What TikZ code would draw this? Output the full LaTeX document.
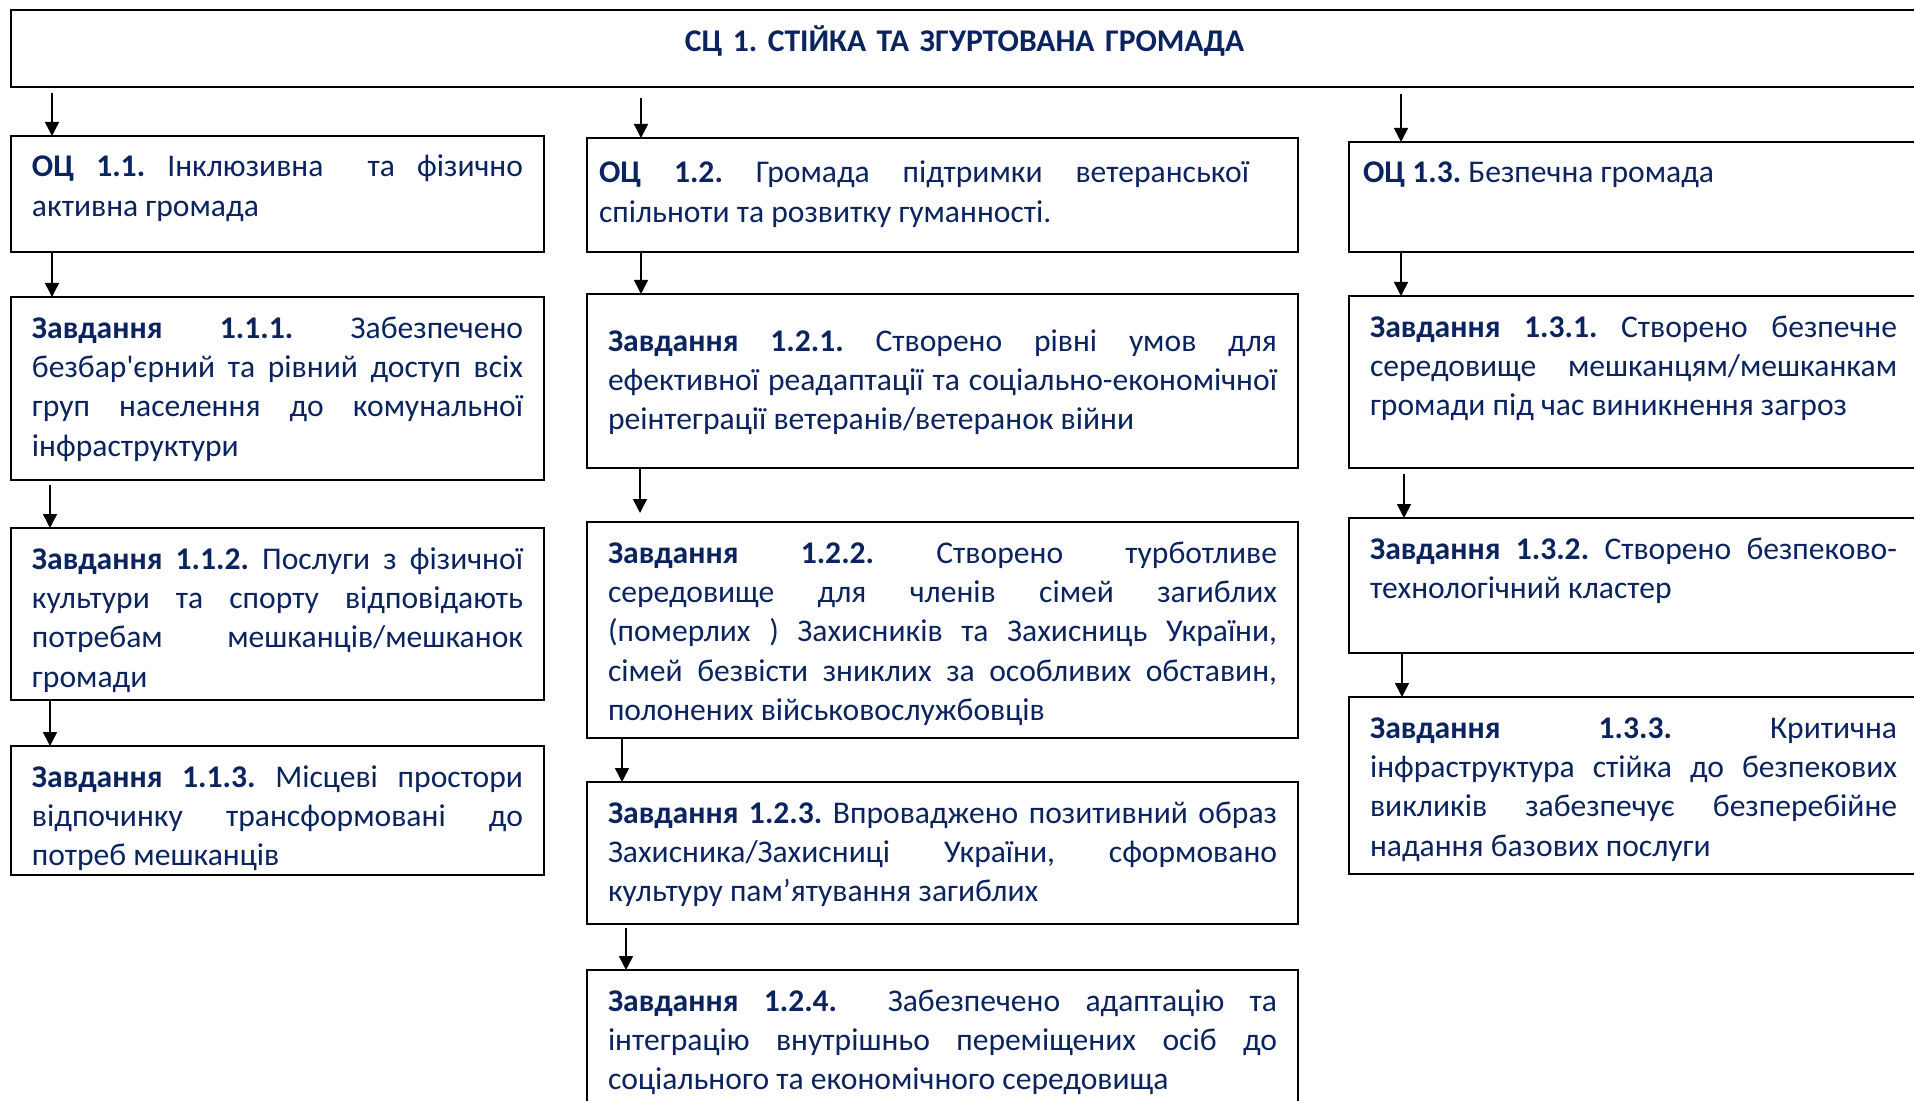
\documentclass[tikz,border=0pt]{standalone}
\usepackage{fontspec}
\setmainfont{Carlito}[Ligatures=TeXOff]
\usepackage{xcolor}
\usetikzlibrary{positioning, arrows.meta}
\definecolor{navy}{HTML}{0B2460}
\frenchspacing
\newcommand{\jline}[2][\linewidth]{\makebox[#1][s]{\spaceskip=0pt\xspaceskip=0pt #2}}

\begin{document}
\begin{tikzpicture}
  [node distance=22pt,
   box/.style={draw, line width=1pt, anchor=north west, inner xsep=10.5pt, inner ysep=0pt,
     outer sep=0pt, text height=20.5pt, align=justify, text=navy,
     font=\fontsize{15.8}{19.7}\selectfont},
   col one/.style={box, text width=245.5pt},
   col two/.style={box, text width=334.5pt},
   col three/.style={box, text width=263.5pt},
   arr/.style={-{Triangle[width=7pt,length=7pt]}, line width=0.75pt}]
  \useasboundingbox (0,0) rectangle (957pt,-550.5pt);
  \fill[white] (0,0) rectangle (957pt,-550.5pt);
  \clip (0,0) rectangle (957pt,-550.5pt);

  % nodes %
  \node[box, text width=932.5pt, align=center, text height=21pt, text depth=17.5pt] (sc1) at (5.5pt,-5pt)
    {\textbf{СЦ 1. СТІЙКА ТА ЗГУРТОВАНА ГРОМАДА}};

  \node[col one, text depth=37.5pt] (oc11) at (5.5pt,-68pt)
    {\jline{\textbf{ОЦ 1.1.} Інклюзивна \ та фізично}\\ активна громада};
  \node[col one, text depth=71pt, below=22.5pt of oc11] (z111)
    {\jline{\textbf{Завдання 1.1.1.} Забезпечено}\\
     \jline{безбар'єрний та рівний доступ всіх}\\
     \jline{груп населення до комунальної}\\
     інфраструктури};
  \node[col one, text depth=65.5pt, below=24pt of z111] (z112)
    {\jline{\textbf{Завдання 1.1.2.} Послуги з фізичної}\\
     \jline{культури та спорту відповідають}\\
     \jline{потребам мешканців/мешканок}\\
     громади};
  \node[col one, text depth=44pt, below=23pt of z112] (z113)
    {\jline{\textbf{Завдання 1.1.3.} Місцеві простори}\\
     \jline{відпочинку трансформовані до}\\
     потреб мешканців};

  \node[col two, inner xsep=6pt, text width=343.5pt, text height=22.5pt, text depth=34.5pt] (oc12) at (293.5pt,-69pt)
    {\jline[325pt]{\textbf{ОЦ 1.2.} Громада підтримки ветеранської}\\
     спільноти та розвитку гуманності.};
  \node[col two, text height=28.5pt, text depth=58.5pt, below=21pt of oc12] (z121)
    {\jline{\textbf{Завдання 1.2.1.} Створено рівні умов для}\\
     \jline{ефективної реадаптації та соціально-економічної}\\
     реінтеграції ветеранів/ветеранок війни};
  \node[col two, text depth=87.5pt, below=27pt of z121] (z122)
    {\jline{\textbf{Завдання 1.2.2.} Створено турботливе}\\
     \jline{середовище для членів сімей загиблих}\\
     \jline{(померлих ) Захисників та Захисниць України,}\\
     \jline{сімей безвісти зниклих за особливих обставин,}\\
     полонених військовослужбовців};
  \node[col two, text depth=50.5pt, below=22pt of z122] (z123)
    {\jline{\textbf{Завдання 1.2.3.} Впроваджено позитивний образ}\\
     \jline{Захисника/Захисниці України, сформовано}\\
     культуру пам’ятування загиблих};
  \node[col two, text depth=57pt, below=23pt of z123] (z124)
    {\jline{\textbf{Завдання 1.2.4.} \ Забезпечено адаптацію та}\\
     \jline{інтеграцію внутрішньо переміщених осіб до}\\
     соціального та економічного середовища};

  \node[col three, inner xsep=7pt, text width=270.5pt, text depth=34.5pt] (oc13) at (674.5pt,-71pt)
    {\textbf{ОЦ 1.3.} Безпечна громада};
  \node[col three, text depth=65.5pt, below=22pt of oc13] (z131)
    {\jline{\textbf{Завдання 1.3.1.} Створено безпечне}\\
     \jline{середовище мешканцям/мешканкам}\\
     громади під час виникнення загроз};
  \node[col three, text depth=47pt, below=25pt of z131] (z132)
    {\jline{\textbf{Завдання 1.3.2.} Створено безпеково-}\\
     технологічний кластер};
  \node[col three, text depth=68pt, below=22pt of z132] (z133)
    {\jline{\textbf{Завдання 1.3.3.} Критична}\\
     \jline{інфраструктура стійка до безпекових}\\
     \jline{викликів забезпечує безперебійне}\\
     надання базових послуги};

  % edges %
  \draw[arr, shorten <=3pt] ([xshift=20.5pt]oc11.north west |- sc1.south) -- ([xshift=20.5pt]oc11.north west);
  \draw[arr, shorten <=5.5pt] ([xshift=27pt]oc12.north west |- sc1.south) -- ([xshift=27pt]oc12.north west);
  \draw[arr, shorten <=3.5pt] ([xshift=26pt]oc13.north west |- sc1.south) -- ([xshift=26pt]oc13.north west);

  \draw[arr] ([xshift=20.5pt]oc11.south west) -- ([xshift=20.5pt]z111.north west);
  \draw[arr, shorten <=2.5pt] ([xshift=19.5pt]z111.south west) -- ([xshift=19.5pt]z112.north west);
  \draw[arr] ([xshift=19.5pt]z112.south west) -- ([xshift=19.5pt]z113.north west);

  \draw[arr] ([xshift=27pt]oc12.south west) -- ([xshift=27pt]z121.north west);
  \draw[arr, shorten >=4.5pt] ([xshift=26.5pt]z121.south west) -- ([xshift=26.5pt]z122.north west);
  \draw[arr] ([xshift=17.5pt]z122.south west) -- ([xshift=17.5pt]z123.north west);
  \draw[arr, shorten <=2pt] ([xshift=19.5pt]z123.south west) -- ([xshift=19.5pt]z124.north west);

  \draw[arr] ([xshift=26pt]oc13.south west) -- ([xshift=26pt]z131.north west);
  \draw[arr, shorten <=3pt] ([xshift=27.5pt]z131.south west) -- ([xshift=27.5pt]z132.north west);
  \draw[arr] ([xshift=26.5pt]z132.south west) -- ([xshift=26.5pt]z133.north west);
\end{tikzpicture}
\end{document}
